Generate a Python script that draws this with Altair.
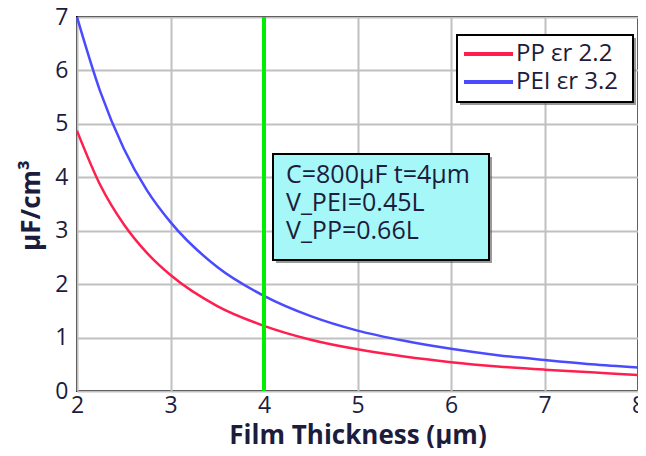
import altair as alt
import pandas as pd

# ---- data ----
thickness = [2.0, 2.25, 2.5, 2.75, 3.0, 3.5, 4.0, 4.5, 5.0, 5.5, 6.0, 6.5, 7.0, 7.5, 8.0]
pp_values = [4.87, 3.85, 3.12, 2.58, 2.17, 1.59, 1.22, 0.96, 0.78, 0.645, 0.54, 0.46, 0.40, 0.35, 0.30]
pei_values = [7.0, 5.6, 4.54, 3.75, 3.16, 2.32, 1.78, 1.40, 1.13, 0.94, 0.79, 0.67, 0.58, 0.50, 0.44]
series_names = ["PP \u03b5r 2.2", "PEI \u03b5r 3.2"]
series_colors = ["#ff1f4f", "#4a4aff"]
marker_x = [4.0]
note_lines = ["C=800\u03bcF t=4\u03bcm", "V_PEI=0.45L", "V_PP=0.66L"]
x_ticks = [2, 3, 4, 5, 6, 7, 8]
y_ticks = [0, 1, 2, 3, 4, 5, 6, 7]

FONT = "Open Sans"
TXT = "#1c1c3c"

rows = []
for name, vals in zip(series_names, [pp_values, pei_values]):
    for t, v in zip(thickness, vals):
        rows.append({"t": t, "v": v, "series": name})
df = pd.DataFrame(rows)

xscale = alt.Scale(domain=[2, 8], nice=False, zero=False)
yscale = alt.Scale(domain=[0, 7], nice=False)

lines = alt.Chart(df).mark_line(strokeWidth=2.5, interpolate="monotone").encode(
    x=alt.X("t:Q", scale=xscale,
            axis=alt.Axis(title="Film Thickness (\u03bcm)", values=x_ticks, format="d",
                          ticks=False, domain=False, labelPadding=3,
                          labelFont=FONT, labelFontSize=23, labelColor=TXT,
                          titleFont=FONT, titleFontSize=26, titleFontWeight="bold",
                          titleColor=TXT, titleY=52, titleBaseline="alphabetic",
                          grid=True, gridColor="#c0c0c0", gridWidth=2,
                          labelFlush=False, labelOverlap=False)),
    y=alt.Y("v:Q", scale=yscale,
            axis=alt.Axis(title="\u03bcF/cm\u00b3", values=y_ticks, format="d",
                          ticks=False, domain=False, labelPadding=9,
                          labelFont=FONT, labelFontSize=23, labelColor=TXT,
                          titleFont=FONT, titleFontSize=26, titleFontWeight="bold",
                          titleColor=TXT, titleX=-46, titleY=188,
                          titleAlign="center", titleBaseline="middle", titleAngle=-90,
                          grid=True, gridColor="#c0c0c0", gridWidth=2,
                          labelFlush=False, labelOverlap=False)),
    color=alt.Color("series:N", scale=alt.Scale(domain=series_names, range=series_colors),
                    legend=None),
)

marker = alt.Chart(pd.DataFrame({"t": marker_x})).mark_rule(
    color="#00ee00", strokeWidth=4).encode(x=alt.X("t:Q", scale=xscale))

one = pd.DataFrame({"k": [0]})

def box(x1, x2, y1, y2, fill):
    shadow = alt.Chart(one).mark_rect(fill="#555555", opacity=0.6).encode(
        x=alt.value(x1 + 3), x2=alt.value(x2 + 3), y=alt.value(y1 + 3), y2=alt.value(y2 + 3))
    body = alt.Chart(one).mark_rect(fill=fill, stroke="black", strokeWidth=2).encode(
        x=alt.value(x1), x2=alt.value(x2), y=alt.value(y1), y2=alt.value(y2))
    return [shadow, body]

layers = [lines, marker]

# legend
layers += box(380, 556, 18, 85, "white")
for i, (name, col) in enumerate(zip(series_names, series_colors)):
    yy = 37 + 28 * i
    layers.append(alt.Chart(one).mark_rule(color=col, strokeWidth=4).encode(
        x=alt.value(387), x2=alt.value(436), y=alt.value(yy)))
    layers.append(alt.Chart(one).mark_text(align="left", baseline="middle", font=FONT,
                                           fontSize=24, color=TXT).encode(
        x=alt.value(439), y=alt.value(yy), text=alt.value(name)))

# annotation
layers += box(196, 412, 137, 243, "#a6f7f7")
for i, line in enumerate(note_lines):
    layers.append(alt.Chart(one).mark_text(align="left", baseline="middle", font=FONT,
                                           fontSize=25, color=TXT).encode(
        x=alt.value(209), y=alt.value(158 + 28 * i), text=alt.value(line)))

chart = alt.layer(*layers).properties(
    width=561, height=374,
    padding={"left": 69, "top": 9, "right": 0, "bottom": 57},
    autosize=alt.AutoSizeParams(type="none"),
    background="white",
).configure_view(stroke="black", strokeWidth=2)

chart.save("out.html", embed_options={"renderer": "svg", "actions": False})
